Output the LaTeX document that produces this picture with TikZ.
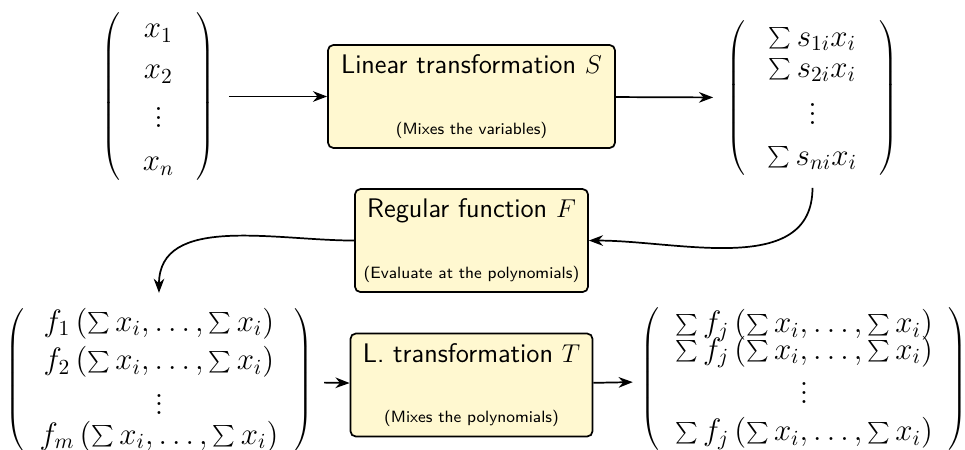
\documentclass[tikz,border=0pt]{standalone}
\usetikzlibrary{positioning,arrows.meta}
\definecolor{boxfill}{RGB}{255,248,208}
\setlength{\arraycolsep}{7.3pt}

\begin{document}
\begin{tikzpicture}[
  node distance=18.3pt,
  box/.style={draw, thick, fill=boxfill, rounded corners=2.5pt, align=center,
              inner xsep=1.5pt, minimum height=47.9pt,
              font=\sffamily\fontsize{12.5pt}{15pt}\selectfont},
  vec/.style={inner xsep=5pt, inner ysep=5pt, font=\Large},
  wide/.style={inner xsep=6pt, execute at begin node={\setlength{\arraycolsep}{10.5pt}}},
  arr/.style={-{Stealth}, thick}
]
  \useasboundingbox (0,0) rectangle (448.84pt,-208.84pt);

  \node[box, minimum width=133.5pt] (linS) at (219.3pt,-44.88pt)
    {Linear transformation $S$\\[13pt] {\fontsize{7.6pt}{9pt}\selectfont (Mixes the variables)}};
  \node[box, minimum width=108.4pt, below=of linS] (regF)
    {Regular function $F$\\[13pt] {\fontsize{7.6pt}{9pt}\selectfont (Evaluate at the polynomials)}};
  \node[box, minimum width=112.6pt, below=18.5pt of regF] (linT)
    {L. transformation $T$\\[13pt] {\fontsize{7.6pt}{9pt}\selectfont (Mixes the polynomials)}};

  \node[vec, wide] (xvec) at (73.72pt,-44.88pt)
    {$\left(\begin{array}{c} x_1\\[1pt] x_2\\[2pt] \vdots\\[2pt] x_n \end{array}\right)$};
  \node[vec, wide] (svec) at (377.9pt,-45.5pt)
    {$\left(\begin{array}{c} \sum s_{1i}x_i\\[-3.5pt] \sum s_{2i}x_i\\[1pt] \vdots\\[1pt] \sum s_{ni}x_i \end{array}\right)$};
  \node[vec] (fvec) at (73.95pt,-176.7pt)
    {$\left(\begin{array}{c}
      f_1\left(\sum x_i,\ldots,\sum x_i\right)\\
      f_2\left(\sum x_i,\ldots,\sum x_i\right)\\
      \vdots\\[-4.2pt]
      f_m\left(\sum x_i,\ldots,\sum x_i\right)
    \end{array}\right)$};
  \node[vec, inner xsep=3.5pt] (tvec) at (374pt,-176.3pt)
    {$\left(\begin{array}{c}
      \sum f_j\left(\sum x_i,\ldots,\sum x_i\right)\\[-5.6pt]
      \sum f_j\left(\sum x_i,\ldots,\sum x_i\right)\\[-0.4pt]
      \vdots\\[-0.4pt]
      \sum f_j\left(\sum x_i,\ldots,\sum x_i\right)
    \end{array}\right)$};

  \draw[arr] (xvec) -- (linS);
  \draw[arr] (linS) -- (svec);
  \draw[arr] (svec.south) to[out=-90, in=0] (regF.east);
  \draw[arr] (regF.west) to[out=180, in=90] (fvec.north);
  \draw[arr] (fvec) -- (linT);
  \draw[arr] (linT) -- (tvec);
\end{tikzpicture}
\end{document}
